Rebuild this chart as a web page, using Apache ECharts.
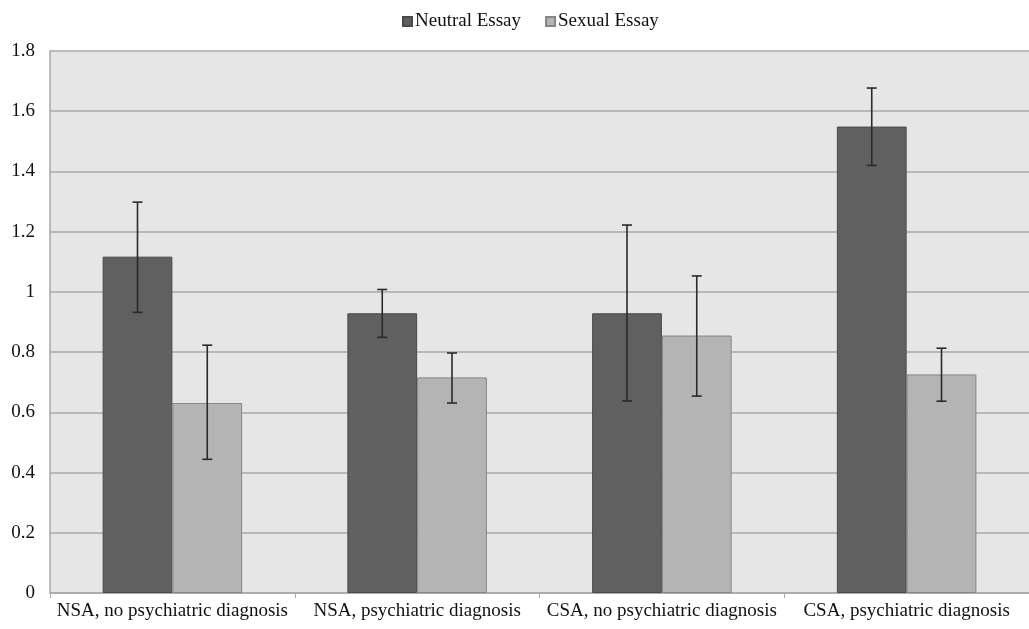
<!DOCTYPE html>
<html>
<head>
<meta charset="utf-8">
<script src="https://cdn.jsdelivr.net/npm/echarts@6/dist/echarts.min.js"></script>
<style>html,body{margin:0;padding:0;background:#fff}#c{width:1029px;height:629px}</style>
</head>
<body>
<div id="c"></div>
<script>
var categories = ['NSA, no psychiatric diagnosis', 'NSA, psychiatric diagnosis', 'CSA, no psychiatric diagnosis', 'CSA, psychiatric diagnosis'];
var neutral = [1.117, 0.929, 0.929, 1.549];
var neutralLow = [0.932, 0.849, 0.638, 1.420];
var neutralHigh = [1.298, 1.008, 1.222, 1.677];
var sexual = [0.631, 0.716, 0.855, 0.726];
var sexualLow = [0.444, 0.631, 0.654, 0.637];
var sexualHigh = [0.823, 0.797, 1.053, 0.813];
var yTicks = [0, 0.2, 0.4, 0.6, 0.8, 1, 1.2, 1.4, 1.6, 1.8];

var font = 'Liberation Serif';
var GAP = 0.43;

function errSeries(low, high, side) {
  return {
    type: 'custom',
    silent: true,
    z: 10,
    data: low.map(function (l, i) { return [i, l, high[i]]; }),
    renderItem: function (params, api) {
      var band = api.size([1, 0])[0];
      var barW = band * (1 - GAP) / 2;
      var c = api.coord([api.value(0), 0]);
      var x = c[0] + side * barW / 2;
      var yl = api.coord([api.value(0), api.value(1)])[1];
      var yh = api.coord([api.value(0), api.value(2)])[1];
      var st = { stroke: '#2a2a2a', lineWidth: 1.6 };
      return {
        type: 'group',
        children: [
          { type: 'line', shape: { x1: x, y1: yl, x2: x, y2: yh }, style: st },
          { type: 'line', shape: { x1: x - 5, y1: yl, x2: x + 5, y2: yl }, style: st },
          { type: 'line', shape: { x1: x - 5, y1: yh, x2: x + 5, y2: yh }, style: st }
        ]
      };
    }
  };
}

var chart = echarts.init(document.getElementById('c'));
chart.setOption({
  animation: false,
  backgroundColor: '#ffffff',
  legend: {
    top: 7,
    left: 397,
    itemWidth: 9,
    itemHeight: 9,
    itemGap: 24,
    icon: 'rect',
    textStyle: { fontFamily: font, fontSize: 19, color: '#111', padding: [0, 0, 0, -2] },
    data: ['Neutral Essay', 'Sexual Essay']
  },
  grid: {
    left: 50, right: 0, top: 51, bottom: 36,
    show: true, backgroundColor: '#e6e6e6', borderWidth: 0
  },
  xAxis: {
    type: 'category',
    data: categories,
    axisLine: { show: true, lineStyle: { color: '#a8a8a8', width: 1.5 } },
    axisTick: { show: true, length: 5, lineStyle: { color: '#a8a8a8' } },
    axisLabel: { fontFamily: font, fontSize: 19, color: '#111', margin: 9, interval: 0 }
  },
  yAxis: {
    type: 'value',
    min: 0, max: 1.8, interval: 0.2,
    axisLine: { show: true, lineStyle: { color: '#a8a8a8', width: 1.5 } },
    axisTick: { show: false },
    splitLine: { lineStyle: { color: '#a8a8a8', width: 1.5 } },
    axisLabel: {
      fontFamily: font, fontSize: 19, color: '#111', margin: 15,
      formatter: function (v) {
        var t = yTicks.filter(function (k) { return Math.abs(k - v) < 1e-6; });
        return t.length ? String(t[0]) : '';
      }
    }
  },
  series: [
    {
      name: 'Neutral Essay', type: 'bar', data: neutral,
      barGap: '0%', barCategoryGap: (GAP * 100) + '%',
      itemStyle: { color: '#606060', borderColor: '#4a4a4a', borderWidth: 1 }
    },
    {
      name: 'Sexual Essay', type: 'bar', data: sexual,
      itemStyle: { color: '#b4b4b4', borderColor: '#858585', borderWidth: 1 }
    },
    errSeries(neutralLow, neutralHigh, -1),
    errSeries(sexualLow, sexualHigh, 1)
  ]
});
</script>
</body>
</html>
